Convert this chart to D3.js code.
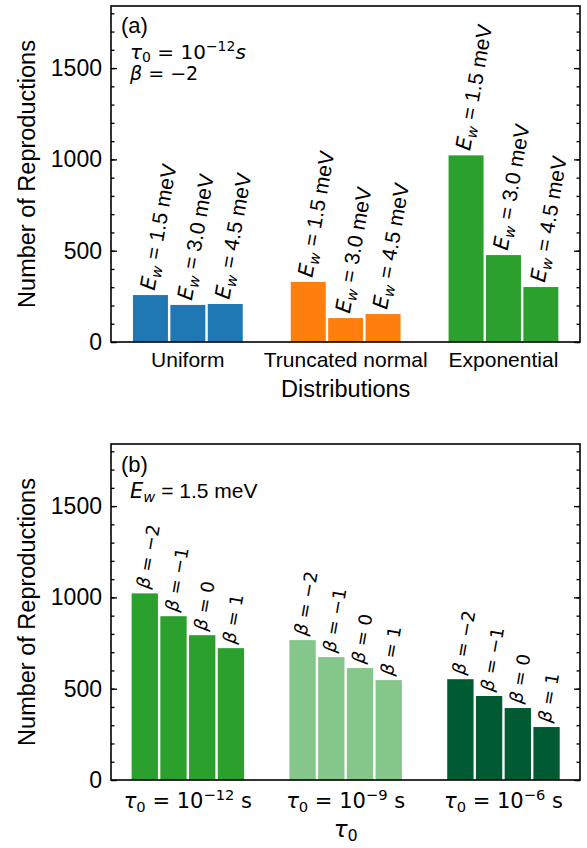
<!DOCTYPE html>
<html>
<head>
<meta charset="utf-8">
<script src="https://cdn.jsdelivr.net/npm/d3@7"></script>
<style>
  body { margin: 0; background: #fff; }
  text { fill: #000; }
</style>
</head>
<body>
<svg id="chart" width="587" height="848"></svg>
<script>

// panel (a): distributions, three Ew values each
const distributions = ['Uniform', 'Truncated normal', 'Exponential'];
const distColors = ['#1f77b4', '#ff7f0e', '#2ca02c'];
const ewLabels = ['1.5', '3.0', '4.5'];
const uniformVals = [257, 203, 208];
const truncatedVals = [329, 131, 153];
const exponentialVals = [1022, 476, 301];

// panel (b): tau0 groups, four beta values each
const tauExponents = ['\u221212', '\u22129', '\u22126'];
const tauColors = ['#2ca02c', '#85c78a', '#005a32'];
const betaLabels = ['\u22122', '\u22121', '0', '1'];
const tau12Vals = [1022, 897, 793, 722];
const tau9Vals = [766, 673, 613, 547];
const tau6Vals = [552, 460, 394, 290];

const majorTicks = [0, 500, 1000, 1500];
const minorTicks = d3.range(0, 1801, 100);

const SANS = 'Liberation Sans, Arial, sans-serif';
const MATH = 'DejaVu Sans, sans-serif';
const ROT = -80;

const svg = d3.select('#chart');

const x = d3.scaleLinear().domain([-0.487, 2.485]).range([111, 580]);

/**
 * Append a text made of styled tspans.
 */
function rich(g, tx, ty, rot, anchor, parts) {
  const t = g.append('text')
    .attr('transform', `translate(${tx},${ty}) rotate(${rot})`)
    .attr('text-anchor', anchor);
  parts.forEach(p => {
    t.append('tspan')
      .attr('font-family', p.f || MATH)
      .attr('font-style', p.i ? 'italic' : 'normal')
      .attr('font-size', p.s)
      .attr('dy', p.dy || 0)
      .text(p.t);
  });
  return t;
}

/**
 * Draw ticks and y label of one panel.
 */
function drawAxes(top, bottom) {
  const y = d3.scaleLinear().domain([0, 1840]).range([bottom, top]);
  const g = svg.append('g');

  g.append('g')
    .attr('transform', `translate(${x.range()[0]},0)`)
    .call(d3.axisLeft(y).tickValues(minorTicks).tickSize(-3.5).tickFormat(''))
    .call(a => a.select('.domain').remove());

  g.append('g')
    .attr('transform', `translate(${x.range()[0]},0)`)
    .call(d3.axisLeft(y).tickValues(majorTicks).tickSize(-6).tickPadding(9).tickFormat(d3.format('d')))
    .call(a => a.select('.domain').remove())
    .call(a => a.selectAll('text')
      .attr('font-family', SANS).attr('font-size', 23).attr('fill', '#000'));

  g.append('g')
    .attr('transform', `translate(${x.range()[1]},0)`)
    .call(d3.axisRight(y).tickValues(minorTicks).tickSize(-3.5).tickFormat(''))
    .call(a => a.select('.domain').remove());

  g.append('g')
    .attr('transform', `translate(${x.range()[1]},0)`)
    .call(d3.axisRight(y).tickValues(majorTicks).tickSize(-6).tickFormat(''))
    .call(a => a.select('.domain').remove());

  g.selectAll('.tick line').attr('stroke', '#000').attr('stroke-width', 1.3);

  g.append('text')
    .attr('transform', `translate(35,${(top + bottom) / 2}) rotate(-90)`)
    .attr('text-anchor', 'middle')
    .attr('font-family', SANS)
    .attr('font-size', 23.5)
    .text('Number of Reproductions');

  return { g, y };
}

function drawFrame(g, top, bottom) {
  g.append('rect')
    .attr('x', x.range()[0]).attr('y', top)
    .attr('width', x.range()[1] - x.range()[0])
    .attr('height', bottom - top)
    .attr('fill', 'none')
    .attr('stroke', '#000')
    .attr('stroke-width', 1.6);
}

// ---------- panel (a) ----------
(function () {
  const top = 6, bottom = 342;
  const { g, y } = drawAxes(top, bottom);
  const groups = [uniformVals, truncatedVals, exponentialVals];
  const w = 0.237;

  groups.forEach((vals, gi) => {
    vals.forEach((v, i) => {
      const xc = x(gi + (i - 1) * w);
      const bw = x(w) - x(0);
      g.append('rect')
        .attr('x', xc - bw / 2 + 1.2)
        .attr('width', bw - 2.4)
        .attr('y', y(v))
        .attr('height', y(0) - y(v))
        .attr('fill', distColors[gi]);

      rich(g, xc + 4, y(v) - 4, ROT, 'start', [
        { t: 'E', i: true, s: 21 },
        { t: 'w', i: true, s: 14.7, dy: 4 },
        { t: ' = ' + ewLabels[i] + ' meV', f: SANS, s: 21, dy: -4 }
      ]);
    });

    g.append('text')
      .attr('x', x(gi)).attr('y', 367)
      .attr('text-anchor', 'middle')
      .attr('font-family', SANS).attr('font-size', 21)
      .text(distributions[gi]);
  });

  g.append('text')
    .attr('x', x(1)).attr('y', 397)
    .attr('text-anchor', 'middle')
    .attr('font-family', SANS).attr('font-size', 23.5)
    .text('Distributions');

  g.append('text')
    .attr('x', 121).attr('y', 33)
    .attr('font-family', SANS).attr('font-size', 22)
    .text('(a)');

  rich(g, 130, 59, 0, 'start', [
    { t: '\u03c4', i: true, s: 20 },
    { t: '0', s: 14, dy: 3 },
    { t: ' = 10', s: 20, dy: -3 },
    { t: '\u221212', s: 14, dy: -8 },
    { t: 's', i: true, s: 20, dy: 8 }
  ]);

  rich(g, 130, 80, 0, 'start', [
    { t: '\u03b2', i: true, s: 19 },
    { t: ' = \u22122', s: 19 }
  ]);

  drawFrame(g, top, bottom);
})();

// ---------- panel (b) ----------
(function () {
  const top = 444, bottom = 780;
  const { g, y } = drawAxes(top, bottom);
  const groups = [tau12Vals, tau9Vals, tau6Vals];
  const w = 0.182;

  groups.forEach((vals, gi) => {
    vals.forEach((v, i) => {
      const xc = x(gi + (i - 1.5) * w);
      const bw = x(w) - x(0);
      g.append('rect')
        .attr('x', xc - bw / 2 + 1.2)
        .attr('width', bw - 2.4)
        .attr('y', y(v))
        .attr('height', y(0) - y(v))
        .attr('fill', tauColors[gi]);

      rich(g, xc + 4, y(v) - 4, ROT, 'start', [
        { t: '\u03b2', i: true, s: 18 },
        { t: ' = ' + betaLabels[i], s: 18 }
      ]);
    });

    rich(g, x(gi), 808, 0, 'middle', [
      { t: '\u03c4', i: true, s: 21 },
      { t: '0', s: 14.7, dy: 4 },
      { t: ' = 10', s: 21, dy: -4 },
      { t: tauExponents[gi], s: 14.7, dy: -8 },
      { t: ' s', s: 21, dy: 8 }
    ]);
  });

  rich(g, x(1), 837, 0, 'middle', [
    { t: '\u03c4', i: true, s: 23 },
    { t: '0', s: 16, dy: 4 }
  ]);

  g.append('text')
    .attr('x', 121).attr('y', 472)
    .attr('font-family', SANS).attr('font-size', 22)
    .text('(b)');

  rich(g, 130, 498, 0, 'start', [
    { t: 'E', i: true, s: 21 },
    { t: 'w', i: true, s: 14.7, dy: 4 },
    { t: ' = 1.5 meV', f: SANS, s: 21, dy: -4 }
  ]);

  drawFrame(g, top, bottom);
})();

</script>
</body>
</html>
